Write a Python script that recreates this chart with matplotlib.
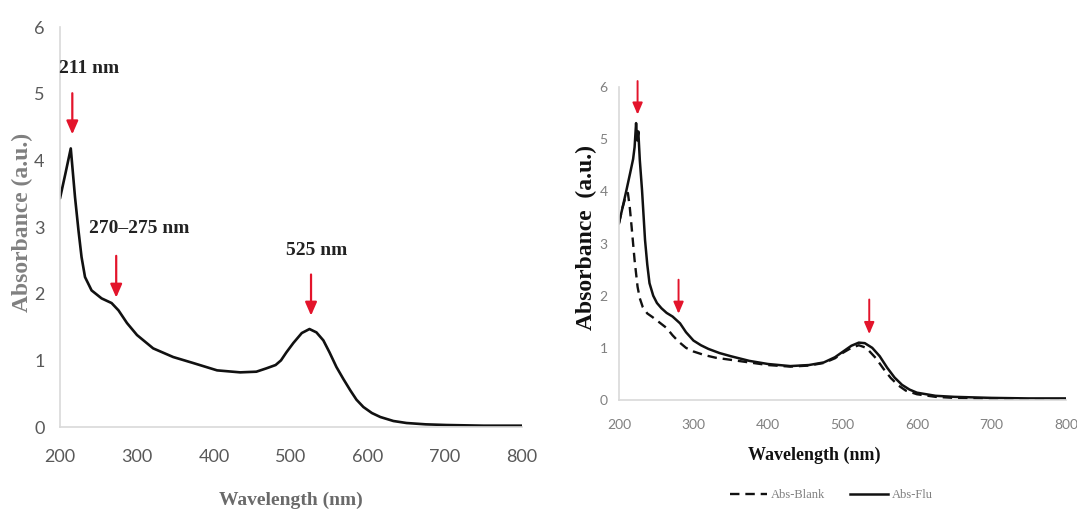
import matplotlib
matplotlib.use("Agg")
import matplotlib.pyplot as plt

# ---- data: left panel (single spectrum) ----
wl_left = [200, 207, 214, 219.5, 224, 228, 232.5, 241, 254, 267, 276, 287, 300, 321, 347, 373, 404, 434,
           455, 468, 480, 487, 494, 503, 514, 524, 533, 542, 550, 559, 568, 577, 585, 594, 605, 616,
           633, 650, 675, 702, 750, 800]
abs_left = [3.43, 3.8, 4.18, 3.45, 2.95, 2.55, 2.25, 2.05, 1.93, 1.86, 1.75, 1.56, 1.38, 1.18, 1.05, 0.96, 0.85, 0.82,
            0.83, 0.88, 0.93, 1.0, 1.12, 1.26, 1.41, 1.47, 1.42, 1.30, 1.12, 0.90, 0.72, 0.55, 0.41, 0.30, 0.21, 0.15,
            0.09, 0.06, 0.04, 0.03, 0.02, 0.02]

# ---- data: right panel ----
wl_flu = [200, 205, 210, 215, 219, 221, 223, 224.5, 226, 228, 231, 235, 238, 241, 246, 251, 257, 264, 272, 282,
          290, 300, 310, 320, 335, 350, 375, 400, 430, 455, 475, 490, 500, 512, 522, 530, 540, 550, 560, 570,
          580, 590, 600, 625, 650, 700, 750, 800]
abs_flu = [3.39, 3.7, 4.02, 4.35, 4.62, 4.85, 5.31, 4.98, 5.15, 4.6, 4.02, 3.07, 2.6, 2.24, 2.0, 1.86, 1.76, 1.67,
           1.6, 1.47, 1.3, 1.14, 1.05, 0.98, 0.9, 0.84, 0.75, 0.69, 0.65, 0.67, 0.72, 0.82, 0.92, 1.04, 1.10, 1.09,
           1.0, 0.84, 0.62, 0.43, 0.29, 0.2, 0.14, 0.08, 0.06, 0.04, 0.03, 0.03]
wl_blank = [200, 205, 210, 212, 214.5, 217, 221, 225, 228, 232, 238, 245, 255, 264, 272, 280, 290, 300, 315,
            330, 350, 375, 400, 430, 455, 475, 490, 500, 512, 522, 532, 545, 555, 565, 575, 585, 600, 625,
            650, 700, 750, 800]
abs_blank = [3.39, 3.7, 3.95, 3.97, 3.7, 3.32, 2.68, 2.17, 1.95, 1.78, 1.66, 1.59, 1.48, 1.38, 1.24, 1.12, 1.0,
             0.93, 0.86, 0.81, 0.77, 0.72, 0.67, 0.64, 0.66, 0.71, 0.8, 0.9, 1.0, 1.05, 1.0, 0.8, 0.6, 0.42,
             0.28, 0.18, 0.11, 0.06, 0.04, 0.02, 0.01, 0.01]

xticks = [200, 300, 400, 500, 600, 700, 800]
yticks = [0, 1, 2, 3, 4, 5, 6]

# annotations: (label, arrow x, arrow tail y, arrow head y, text x, text y)
left_notes = [("211 nm", 216, 5.05, 4.35, 238, 5.38),
              ("270\u2013275 nm", 273, 2.61, 1.90, 303, 2.98),
              ("525 nm", 526, 2.33, 1.63, 533, 2.65)]
right_arrows = [(225, 6.17, 5.42), (280, 2.36, 1.6), (536, 1.98, 1.21)]

RED = "#e3142b"
SERIF = "Liberation Serif"
SANS = "Lato"

fig = plt.figure(figsize=(10.77, 5.12), dpi=100)


def style_axes(ax, tick_color, tick_size, ypad, xpad):
    ax.set_xlim(200, 800)
    ax.set_ylim(0, 6)
    ax.set_xticks(xticks)
    ax.set_yticks(yticks)
    for s in ["top", "right"]:
        ax.spines[s].set_visible(False)
    for s in ["left", "bottom"]:
        ax.spines[s].set_color("#d9d9d9")
        ax.spines[s].set_linewidth(1.2)
    ax.tick_params(axis="both", length=0, colors=tick_color, labelsize=tick_size)
    ax.tick_params(axis="y", pad=ypad)
    ax.tick_params(axis="x", pad=xpad)
    for lab in ax.get_xticklabels() + ax.get_yticklabels():
        lab.set_family(SANS)


# ---------- left panel ----------
axL = fig.add_axes([0.0557, 0.166, 0.429, 0.781])
style_axes(axL, "#595959", 13, 11, 16)
axL.plot(wl_left, abs_left, color="#111111", lw=1.9, solid_capstyle="round", solid_joinstyle="round")
axL.set_xlabel("Wavelength (nm)", family=SERIF, fontweight="bold", fontsize=14, color="#6a6a6a")
axL.xaxis.set_label_coords(0.5, -0.163)
axL.set_ylabel("Absorbance (a.u.)", family=SERIF, fontweight="bold", fontsize=17, color="#808080")
axL.yaxis.set_label_coords(-0.058, 0.512)
for label, x, ytail, yhead, tx, ty in left_notes:
    axL.annotate("", xy=(x, yhead), xytext=(x, ytail),
                 arrowprops=dict(arrowstyle="-|>,head_width=0.35,head_length=0.8", color=RED, lw=1.6))
    axL.text(tx, ty, label, family=SERIF, fontweight="bold", fontsize=14, color="#222222",
             ha="center", va="center")

# ---------- right panel ----------
axR = fig.add_axes([0.5747, 0.2188, 0.415, 0.611])
style_axes(axR, "#808080", 10, 8, 14)
axR.plot(wl_blank, abs_blank, color="#111111", lw=1.7, ls=(0, (4, 2.5)), label="Abs-Blank")
axR.plot(wl_flu, abs_flu, color="#111111", lw=1.8, solid_joinstyle="round", label="Abs-Flu")
axR.set_xlabel("Wavelength (nm)", family=SERIF, fontweight="bold", fontsize=13, color="#111111")
axR.xaxis.set_label_coords(0.4375, -0.148)
axR.set_ylabel("Absorbance  (a.u.)", family=SERIF, fontweight="bold", fontsize=17, color="#111111")
axR.yaxis.set_label_coords(-0.05, 0.52)
for x, ytail, yhead in right_arrows:
    axR.annotate("", xy=(x, yhead), xytext=(x, ytail), annotation_clip=False,
                 arrowprops=dict(arrowstyle="-|>,head_width=0.3,head_length=0.7", color=RED, lw=1.4))
leg = axR.legend(loc="center", bbox_to_anchor=(0.475, -0.305), ncol=2, frameon=False,
                 prop={"family": SERIF, "size": 9}, handlelength=3.0, columnspacing=2.0,
                 handletextpad=0.3, labelcolor="#7f7f7f")

fig.savefig("out.png", dpi=100)
